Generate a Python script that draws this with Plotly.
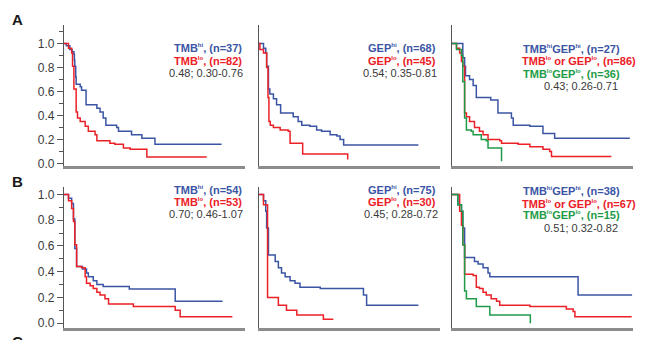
import plotly.graph_objects as go

# ---- Kaplan-Meier step data (months, survival probability) ----
# Row A
a_tmb_hi_t = [0, 0.5, 1.3, 1.8, 2.2, 2.3, 2.4, 2.6, 2.7, 3.6, 3.9, 4.9, 7.3, 8.0, 8.7, 9.3, 11.7, 12.1, 15.0, 17.3, 20.2, 35.0]
a_tmb_hi_s = [1.0, 0.98, 0.95, 0.93, 0.91, 0.86, 0.81, 0.72, 0.66, 0.64, 0.61, 0.49, 0.46, 0.43, 0.38, 0.32, 0.30, 0.27, 0.24, 0.21, 0.16, 0.16]
a_tmb_lo_t = [0, 1.0, 1.7, 1.9, 2.2, 2.7, 3.0, 3.6, 4.7, 5.4, 6.9, 7.3, 10.2, 11.3, 13.2, 14.7, 18.4, 31.7]
a_tmb_lo_s = [1.0, 0.96, 0.92, 0.81, 0.62, 0.43, 0.38, 0.35, 0.31, 0.27, 0.24, 0.19, 0.17, 0.16, 0.13, 0.12, 0.055, 0.055]

a_gep_hi_t = [0, 1.0, 1.5, 1.7, 2.1, 2.4, 3.2, 3.9, 4.8, 7.6, 8.7, 9.5, 11.3, 12.8, 13.9, 15.8, 17.3, 18.0, 18.8, 35.4]
a_gep_hi_s = [1.0, 0.96, 0.92, 0.81, 0.62, 0.58, 0.54, 0.49, 0.42, 0.39, 0.35, 0.32, 0.31, 0.28, 0.27, 0.24, 0.23, 0.20, 0.155, 0.155]
a_gep_lo_t = [0, 0.2, 1.0, 1.7, 2.0, 2.2, 2.5, 3.2, 4.7, 6.5, 6.9, 9.7, 19.7]
a_gep_lo_s = [1.0, 0.95, 0.92, 0.80, 0.55, 0.35, 0.32, 0.30, 0.28, 0.27, 0.17, 0.08, 0.035]

a_both_hi_t = [0, 2.4, 2.8, 3.0, 3.9, 4.7, 5.4, 8.6, 10.2, 13.2, 13.6, 17.3, 20.2, 22.8, 39.5]
a_both_hi_s = [1.0, 0.88, 0.81, 0.73, 0.70, 0.65, 0.55, 0.53, 0.42, 0.38, 0.32, 0.31, 0.25, 0.21, 0.21]
a_either_lo_t = [0, 1.0, 1.7, 2.1, 2.4, 2.8, 3.2, 3.9, 5.0, 6.1, 6.9, 8.0, 10.6, 11.0, 14.7, 17.3, 20.2, 21.7, 22.1, 35.4]
a_either_lo_s = [1.0, 0.96, 0.92, 0.85, 0.81, 0.42, 0.39, 0.35, 0.30, 0.27, 0.24, 0.20, 0.19, 0.17, 0.16, 0.14, 0.12, 0.10, 0.06, 0.06]
a_both_lo_t = [0, 1.0, 2.1, 2.4, 2.8, 3.2, 4.3, 4.7, 6.5, 7.6, 8.0, 11.0]
a_both_lo_s = [1.0, 0.95, 0.90, 0.68, 0.38, 0.28, 0.27, 0.24, 0.20, 0.19, 0.13, 0.02]

# Row B
b_tmb_hi_t = [0, 1.0, 1.7, 2.1, 2.4, 2.8, 4.1, 5.0, 5.4, 6.5, 7.3, 8.7, 14.5, 24.7, 35.2]
b_tmb_hi_s = [1.0, 0.97, 0.93, 0.81, 0.58, 0.44, 0.42, 0.39, 0.36, 0.33, 0.30, 0.285, 0.265, 0.17, 0.17]
b_tmb_lo_t = [0, 1.0, 1.7, 2.1, 2.4, 2.8, 3.9, 4.7, 5.0, 5.8, 6.5, 7.3, 8.0, 9.1, 9.9, 15.4, 24.7, 25.8, 37.4]
b_tmb_lo_s = [1.0, 0.95, 0.89, 0.79, 0.61, 0.44, 0.43, 0.36, 0.31, 0.29, 0.27, 0.24, 0.22, 0.19, 0.15, 0.13, 0.10, 0.05, 0.05]

b_gep_hi_t = [0, 1.0, 1.5, 1.7, 2.1, 3.6, 4.3, 5.0, 5.8, 6.9, 8.0, 9.1, 13.6, 23.2, 23.9, 35.4]
b_gep_hi_s = [1.0, 0.95, 0.87, 0.74, 0.53, 0.48, 0.43, 0.39, 0.36, 0.33, 0.31, 0.28, 0.27, 0.22, 0.14, 0.14]
b_gep_lo_t = [0, 1.0, 1.9, 4.3, 6.1, 8.4, 14.3, 16.5]
b_gep_lo_s = [1.0, 0.92, 0.20, 0.14, 0.10, 0.064, 0.03, 0.03]

b_both_hi_t = [0, 1.3, 2.1, 2.4, 2.8, 5.0, 5.8, 6.9, 8.0, 8.4, 28.0, 40.0]
b_both_hi_s = [1.0, 0.92, 0.87, 0.74, 0.51, 0.48, 0.46, 0.43, 0.39, 0.36, 0.22, 0.22]
b_either_lo_t = [0, 1.7, 2.1, 2.4, 2.8, 4.7, 5.4, 6.1, 6.9, 7.6, 8.7, 9.9, 10.6, 17.3, 25.4, 26.9, 27.3, 39.9]
b_either_lo_s = [1.0, 0.87, 0.76, 0.61, 0.38, 0.37, 0.28, 0.27, 0.24, 0.22, 0.19, 0.17, 0.14, 0.13, 0.11, 0.09, 0.05, 0.05]
b_both_lo_t = [0, 1.3, 2.1, 2.4, 2.8, 3.2, 5.4, 8.4, 17.4]
b_both_lo_s = [1.0, 0.92, 0.87, 0.61, 0.25, 0.19, 0.13, 0.064, 0.0]

# Y axis tick labels
y_ticks = [0.0, 0.2, 0.4, 0.6, 0.8, 1.0]
y_tick_text = ["0.0", "0.2", "0.4", "0.6", "0.8", "1.0"]

BLUE = "#3b55a5"
RED = "#ec2027"
GREEN = "#1f9b48"
GRAY_TXT = "#3a3a3a"
FONT = "Liberation Sans, Arial, sans-serif"

W, H = 650, 340


def px(x):
    return x / W


def py(y):
    return 1 - y / H


def sup(s):
    # small raised qualifier (hi / lo)
    return f'<sup><span style="font-size:6px">{s}</span></sup>'


HI, LO = sup("hi"), sup("lo")

# panel domains (pixel boundaries)
col_px = [(64, 245), (259, 440), (452, 633)]
row_px = [(25, 168), (190, 333)]
row_ranges = [[-0.016, 1.156], [-0.038, 1.056]]
x_range = [0, 40.2]

panels = [
    # row, col, list of (t, s, colour)
    (0, 0, [(a_tmb_hi_t, a_tmb_hi_s, BLUE), (a_tmb_lo_t, a_tmb_lo_s, RED)]),
    (0, 1, [(a_gep_hi_t, a_gep_hi_s, BLUE), (a_gep_lo_t, a_gep_lo_s, RED)]),
    (0, 2, [(a_both_hi_t, a_both_hi_s, BLUE), (a_either_lo_t, a_either_lo_s, RED),
            (a_both_lo_t, a_both_lo_s, GREEN)]),
    (1, 0, [(b_tmb_hi_t, b_tmb_hi_s, BLUE), (b_tmb_lo_t, b_tmb_lo_s, RED)]),
    (1, 1, [(b_gep_hi_t, b_gep_hi_s, BLUE), (b_gep_lo_t, b_gep_lo_s, RED)]),
    (1, 2, [(b_both_hi_t, b_both_hi_s, BLUE), (b_either_lo_t, b_either_lo_s, RED),
            (b_both_lo_t, b_both_lo_s, GREEN)]),
]

fig = go.Figure()
layout = dict(
    width=W, height=H,
    margin=dict(l=0, r=0, t=0, b=0),
    paper_bgcolor="white", plot_bgcolor="white",
    showlegend=False,
    font=dict(family=FONT, size=12, color=GRAY_TXT),
)

for i, (r, c, curves) in enumerate(panels):
    n = i + 1
    xa = "xaxis" if n == 1 else f"xaxis{n}"
    ya = "yaxis" if n == 1 else f"yaxis{n}"
    xref = "x" if n == 1 else f"x{n}"
    yref = "y" if n == 1 else f"y{n}"
    x0, x1 = col_px[c]
    y0, y1 = row_px[r]
    for t, s, colr in curves:
        fig.add_trace(go.Scatter(
            x=t, y=s, mode="lines", line=dict(color=colr, width=1.5, shape="hv"),
            xaxis=xref, yaxis=yref, hoverinfo="skip"))
    layout[xa] = dict(
        domain=[px(x0), px(x1)], anchor=yref, range=x_range,
        showline=True, linecolor="#8c8c8c", linewidth=2.5,
        showgrid=False, zeroline=False, ticks="", showticklabels=False)
    yax = dict(
        domain=[py(y1), py(y0)], anchor=xref, range=row_ranges[r],
        showline=True, linecolor="#555555", linewidth=1.3,
        showgrid=False, zeroline=False)
    if c == 0:
        yax.update(
            tickvals=y_ticks, ticktext=y_tick_text, ticks="outside",
            ticklen=6, tickwidth=1, tickcolor="#555555",
            tickfont=dict(family=FONT, size=12, color=GRAY_TXT),
            minor=dict(dtick=0.1, tick0=0, ticks="outside", ticklen=4,
                       tickwidth=1, tickcolor="#555555"))
    else:
        yax.update(ticks="", showticklabels=False)
    layout[ya] = yax

ann = []


def label(text, x, y, color, xanchor="right", bold=True, size=11):
    ann.append(dict(
        text=f"<b>{text}</b>" if bold else text,
        x=px(x), y=py(y), xref="paper", yref="paper",
        xanchor=xanchor, yanchor="middle", showarrow=False,
        font=dict(family=FONT, size=size, color=color)))


# Row A labels
label(f"TMB{HI}, (n=37)", 244, 49, BLUE)
label(f"TMB{LO}, (n=82)", 244, 62, RED)
label("0.48; 0.30-0.76", 245, 74, GRAY_TXT, bold=False)
label(f"GEP{HI}, (n=68)", 438, 49, BLUE)
label(f"GEP{LO}, (n=45)", 438, 62, RED)
label("0.54; 0.35-0.81", 439, 74, GRAY_TXT, bold=False)
label(f"TMB{HI}GEP{HI}, (n=27)", 521, 50, BLUE, xanchor="left")
label(f"TMB{LO} or GEP{LO}, (n=86)", 520, 62, RED, xanchor="left")
label(f"TMB{LO}GEP{LO}, (n=36)", 521, 75, GREEN, xanchor="left")
label("0.43; 0.26-0.71", 542, 87, GRAY_TXT, xanchor="left", bold=False)

# Row B labels
label(f"TMB{HI}, (n=54)", 244, 193, BLUE)
label(f"TMB{LO}, (n=53)", 244, 205, RED)
label("0.70; 0.46-1.07", 245, 217, GRAY_TXT, bold=False)
label(f"GEP{HI}, (n=75)", 438, 193, BLUE)
label(f"GEP{LO}, (n=30)", 438, 205, RED)
label("0.45; 0.28-0.72", 440, 217, GRAY_TXT, bold=False)
label(f"TMB{HI}GEP{HI}, (n=38)", 521, 194, BLUE, xanchor="left")
label(f"TMB{LO} or GEP{LO}, (n=67)", 520, 207, RED, xanchor="left")
label(f"TMB{LO}GEP{LO}, (n=15)", 521, 218, GREEN, xanchor="left")
label("0.51; 0.32-0.82", 542, 231, GRAY_TXT, xanchor="left", bold=False)

# Panel letters
for letter, yc in [("A", 20), ("B", 184), ("C", 347)]:
    ann.append(dict(
        text=f"<b>{letter}</b>", x=px(17), y=py(yc), xref="paper", yref="paper",
        xanchor="center", yanchor="middle", showarrow=False,
        font=dict(family=FONT, size=15, color="#1a1a1a")))

layout["annotations"] = ann
fig.update_layout(**layout)
fig.write_html("out.html")
